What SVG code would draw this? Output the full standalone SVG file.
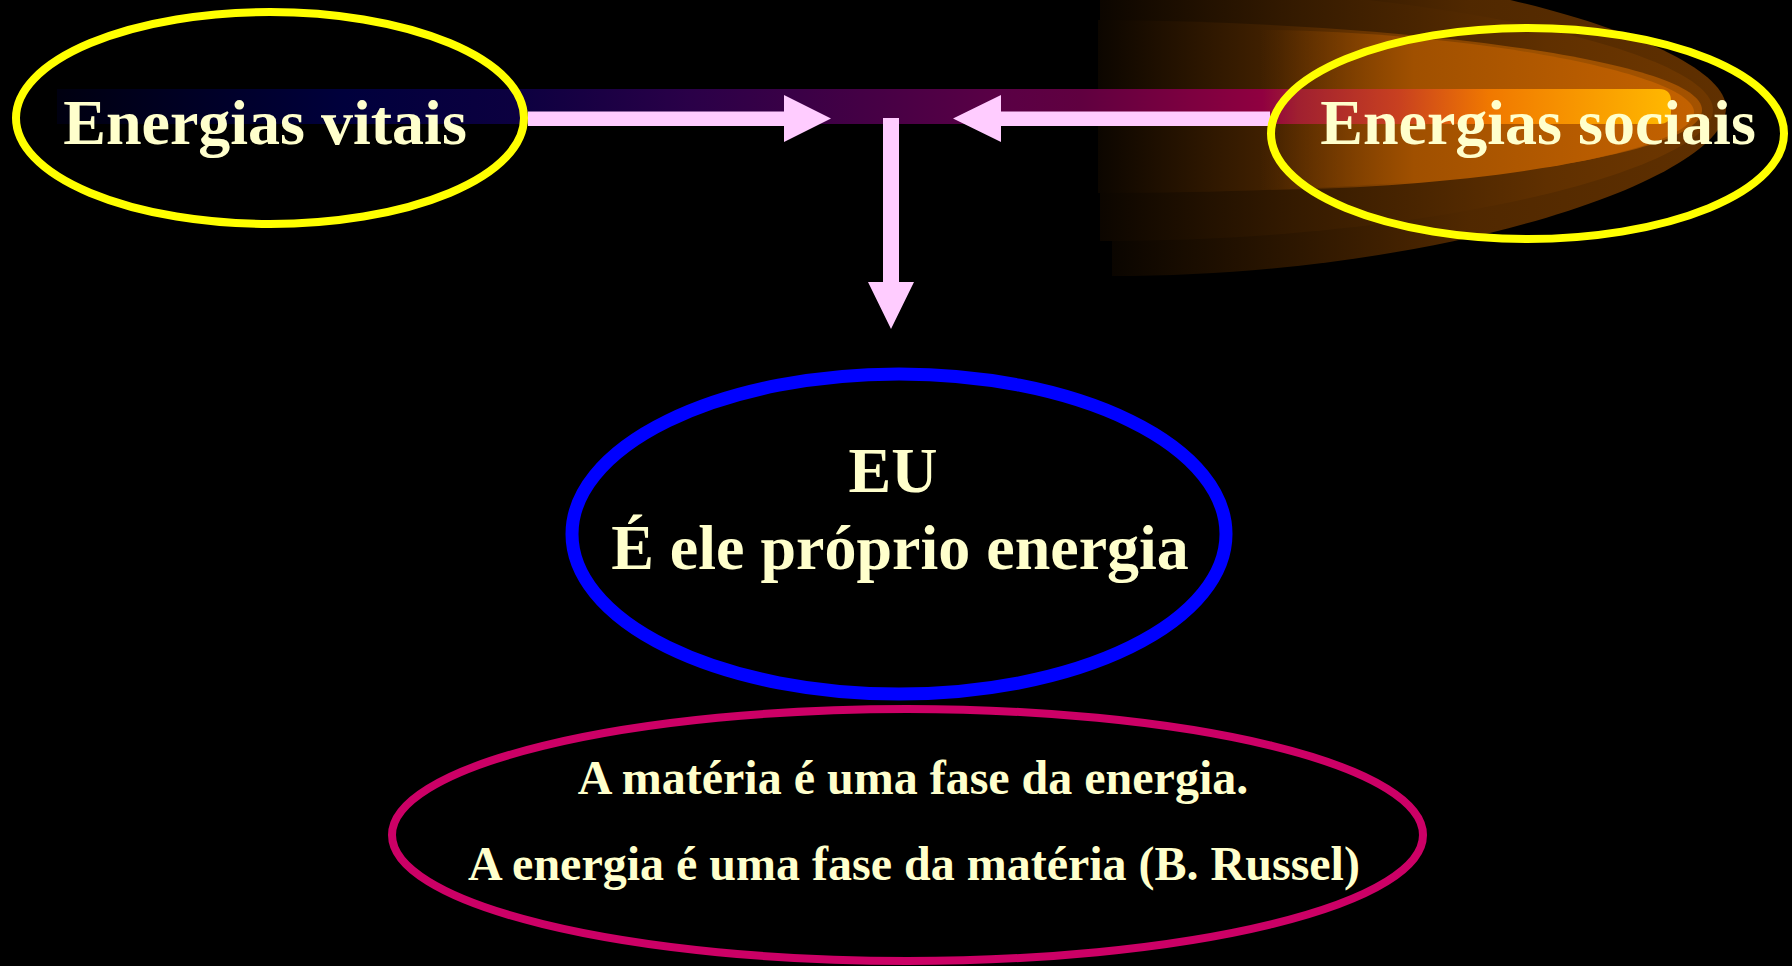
<svg xmlns="http://www.w3.org/2000/svg" width="1792" height="966" viewBox="0 0 1792 966">
  <style>
    .lbl { font-family: "Liberation Serif", "Times New Roman", serif; font-weight: bold; fill: #ffffcc; }
    .big { font-size: 64px; }
    .small { font-size: 48px; }
    .yel { fill: none; stroke: #ffff00; stroke-width: 8; }
    .arrow { fill: #ffccff; }
  </style>
  <defs>
    <linearGradient id="band" gradientUnits="userSpaceOnUse" x1="57" y1="0" x2="1671" y2="0">
      <stop offset="0" stop-color="#000010"/>
      <stop offset="0.178" stop-color="#00003c"/>
      <stop offset="0.285" stop-color="#0c0040"/>
      <stop offset="0.392" stop-color="#2a0048"/>
      <stop offset="0.498" stop-color="#440045"/>
      <stop offset="0.584" stop-color="#5a0045"/>
      <stop offset="0.634" stop-color="#600040"/>
      <stop offset="0.747" stop-color="#900040"/>
      <stop offset="0.769" stop-color="#a02030"/>
      <stop offset="0.831" stop-color="#c84020"/>
      <stop offset="0.887" stop-color="#f07800"/>
      <stop offset="0.944" stop-color="#f89800"/>
      <stop offset="1" stop-color="#ffb800"/>
    </linearGradient>
    <linearGradient id="g1" gradientUnits="userSpaceOnUse" x1="1110" y1="0" x2="1726" y2="0">
      <stop offset="0" stop-color="#0a0500"/>
      <stop offset="0.31" stop-color="#2e1700"/>
      <stop offset="0.58" stop-color="#502800"/>
      <stop offset="1" stop-color="#603000"/>
    </linearGradient>
    <linearGradient id="g2" gradientUnits="userSpaceOnUse" x1="1100" y1="0" x2="1713" y2="0">
      <stop offset="0" stop-color="#0c0600"/>
      <stop offset="0.33" stop-color="#361b00"/>
      <stop offset="0.73" stop-color="#603000"/>
      <stop offset="1" stop-color="#703800"/>
    </linearGradient>
    <linearGradient id="g3" gradientUnits="userSpaceOnUse" x1="1098" y1="0" x2="1702" y2="0">
      <stop offset="0" stop-color="#0c0600"/>
      <stop offset="0.3" stop-color="#442200"/>
      <stop offset="0.5" stop-color="#783c00"/>
      <stop offset="0.72" stop-color="#9c5000"/>
      <stop offset="1" stop-color="#a45200"/>
    </linearGradient>
    <linearGradient id="g4" gradientUnits="userSpaceOnUse" x1="1260" y1="0" x2="1700" y2="0">
      <stop offset="0" stop-color="#783c00" stop-opacity="0"/>
      <stop offset="0.35" stop-color="#a05000"/>
      <stop offset="0.75" stop-color="#b85c00"/>
      <stop offset="1" stop-color="#c46200"/>
    </linearGradient>
  </defs>

  <rect width="1792" height="966" fill="#000000"/>

  <g id="glow">
    <path d="M1112,-45 C1420,-45 1726,40 1726,108 C1726,180 1440,276 1112,276 Z" fill="url(#g1)"/>
    <path d="M1100,-15 C1420,-15 1713,50 1713,110 C1713,165 1450,241 1100,241 Z" fill="url(#g2)"/>
    <path d="M1098,20 C1400,22 1702,60 1702,110 C1702,155 1460,193 1098,193 Z" fill="url(#g3)"/>
    <path d="M1260,30 C1480,32 1694,75 1694,112 C1694,152 1480,188 1260,190 Z" fill="url(#g4)"/>
    <path d="M57,89 H1659 Q1671,89 1671,101 V112 Q1671,124 1659,124 H57 Z" fill="url(#band)"/>
  </g>

  <g id="connectors">
    <path class="arrow" d="M528,111.5 H784 V95 L831,118.5 L784,142 V126 H528 Z"/>
    <path class="arrow" d="M1270,111.5 H1001 V95 L953,118.5 L1001,142 V126 H1270 Z"/>
    <path class="arrow" d="M883,118 H899 V282 H914 L891,329 L868,282 H883 Z"/>
  </g>

  <g id="node-vitais">
    <ellipse class="yel" cx="270" cy="118" rx="254" ry="106"/>
    <text class="lbl big" x="265" y="144" text-anchor="middle">Energias vitais</text>
  </g>

  <g id="node-sociais">
    <ellipse class="yel" cx="1527.5" cy="133.5" rx="256.5" ry="105.5"/>
    <text class="lbl big" x="1538" y="144" text-anchor="middle">Energias sociais</text>
  </g>

  <g id="node-eu">
    <ellipse cx="899" cy="534" rx="327" ry="160" fill="none" stroke="#0000ff" stroke-width="13"/>
    <text class="lbl big" x="893" y="492" text-anchor="middle">EU</text>
    <text class="lbl big" x="900" y="569" text-anchor="middle">É ele próprio energia</text>
  </g>

  <g id="node-russel">
    <ellipse cx="907.5" cy="835" rx="515.5" ry="126" fill="none" stroke="#cc0066" stroke-width="8"/>
    <text class="lbl small" x="913" y="794" text-anchor="middle">A matéria é uma fase da energia.</text>
    <text class="lbl small" x="914" y="880" text-anchor="middle">A energia é uma fase da matéria (B. Russel)</text>
  </g>
</svg>
